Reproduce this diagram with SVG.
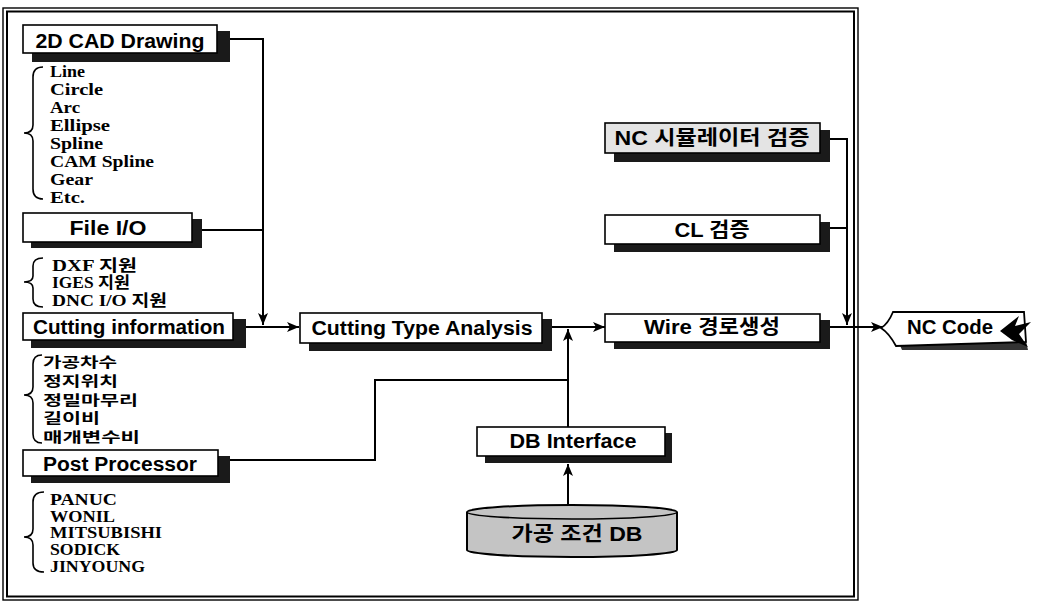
<svg xmlns="http://www.w3.org/2000/svg" width="1039" height="602" viewBox="0 0 1039 602">
<style>
.box{fill:#fff;stroke:#000;stroke-width:1.6}
.shd{fill:#1a1a1a}
.bt{font-family:"Liberation Sans","Noto Sans CJK KR",sans-serif;font-weight:bold;font-size:20px;fill:#000;text-anchor:middle}
.ls{font-family:"Liberation Serif","Noto Sans CJK KR",serif;font-weight:bold;font-size:16px;fill:#000}
.lk{font-family:"Noto Sans CJK KR",sans-serif;font-weight:bold;font-size:14px;fill:#000}
.br{fill:none;stroke:#000;stroke-width:1.6}
.cn{fill:none;stroke:#000;stroke-width:2}
</style>
<defs>
<marker id="ah" markerUnits="userSpaceOnUse" markerWidth="12" markerHeight="10" refX="12" refY="5" orient="auto">
<path d="M0,0 L12,5 L0,10 L3,5 Z" fill="#000"/>
</marker>
</defs>
<g id="frame">
<rect x="3" y="8" width="855" height="592" fill="none" stroke="#000" stroke-width="1.4"/>
<rect x="7" y="11.5" width="847" height="585" fill="none" stroke="#000" stroke-width="2"/>
</g>
<g id="connectors">
<polyline class="cn" points="230,39 263,39 263,325" marker-end="url(#ah)"/>
<line class="cn" x1="202" y1="230" x2="263" y2="230"/>
<line class="cn" x1="246" y1="327" x2="299" y2="327" marker-end="url(#ah)"/>
<line class="cn" x1="552" y1="327" x2="605" y2="327" marker-end="url(#ah)"/>
<polyline class="cn" points="230,460 375,460 375,380 568,380"/>
<line class="cn" x1="568" y1="427" x2="568" y2="329" marker-end="url(#ah)"/>
<line class="cn" x1="568" y1="508" x2="568" y2="464" marker-end="url(#ah)"/>
<polyline class="cn" points="830,139 847,139 847,325" marker-end="url(#ah)"/>
<line class="cn" x1="830" y1="228" x2="847" y2="228"/>
<line class="cn" x1="830" y1="327" x2="883" y2="327" marker-end="url(#ah)"/>
</g>
<g id="n-cad">
<rect class="shd" x="32" y="31" width="198" height="31"/>
<rect class="box" x="23" y="25" width="194" height="28"/>
<text class="bt" x="120" y="48" textLength="169" lengthAdjust="spacingAndGlyphs">2D CAD Drawing</text>
</g>
<g id="list-cad">
<path class="br" d="M43,67 Q33,67 33,77 L33,125 Q33,133 24,133 Q33,133 33,141 L33,189 Q33,199 43,199"/>
<text class="ls" x="50" y="77" textLength="35" lengthAdjust="spacingAndGlyphs">Line</text>
<text class="ls" x="50" y="95" textLength="53" lengthAdjust="spacingAndGlyphs">Circle</text>
<text class="ls" x="50" y="113" textLength="30" lengthAdjust="spacingAndGlyphs">Arc</text>
<text class="ls" x="50" y="131" textLength="60" lengthAdjust="spacingAndGlyphs">Ellipse</text>
<text class="ls" x="50" y="149" textLength="53" lengthAdjust="spacingAndGlyphs">Spline</text>
<text class="ls" x="50" y="167" textLength="104" lengthAdjust="spacingAndGlyphs">CAM Spline</text>
<text class="ls" x="50" y="185" textLength="43" lengthAdjust="spacingAndGlyphs">Gear</text>
<text class="ls" x="50" y="203" textLength="35" lengthAdjust="spacingAndGlyphs">Etc.</text>
</g>
<g id="n-file">
<rect class="shd" x="31" y="219" width="171" height="29"/>
<rect class="box" x="23" y="213" width="169" height="29"/>
<text class="bt" x="108" y="235" textLength="77" lengthAdjust="spacingAndGlyphs">File I/O</text>
</g>
<g id="list-file">
<path class="br" d="M43,258 Q33,258 33,266 L33,276 Q33,282 24,282 Q33,282 33,288 L33,299 Q33,307 43,307"/>
<text class="ls" x="52" y="271" textLength="85" lengthAdjust="spacingAndGlyphs">DXF 지원</text>
<text class="ls" x="52" y="288" textLength="78" lengthAdjust="spacingAndGlyphs" font-weight="normal">IGES 지원</text>
<text class="ls" x="52" y="306" textLength="115" lengthAdjust="spacingAndGlyphs" font-weight="normal">DNC I/O 지원</text>
</g>
<g id="n-cutinfo">
<rect class="shd" x="31" y="319" width="215" height="29"/>
<rect class="box" x="23" y="313" width="210" height="27"/>
<text class="bt" x="129" y="334" textLength="192" lengthAdjust="spacingAndGlyphs">Cutting information</text>
</g>
<g id="list-cutinfo">
<path class="br" d="M42,355 Q33,355 33,364 L33,387 Q33,395 24,395 Q33,395 33,403 L33,434 Q33,443 42,443"/>
<text class="lk" x="43" y="367" textLength="74" lengthAdjust="spacingAndGlyphs">가공차수</text>
<text class="lk" x="43" y="386" textLength="75" lengthAdjust="spacingAndGlyphs">정지위치</text>
<text class="lk" x="43" y="405" textLength="95" lengthAdjust="spacingAndGlyphs">정밀마무리</text>
<text class="lk" x="43" y="423" textLength="57" lengthAdjust="spacingAndGlyphs">길이비</text>
<text class="lk" x="43" y="442" textLength="97" lengthAdjust="spacingAndGlyphs">매개변수비</text>
</g>
<g id="n-post">
<rect class="shd" x="31" y="456" width="199" height="27"/>
<rect class="box" x="23" y="450" width="195" height="26"/>
<text class="bt" x="120" y="471" textLength="154" lengthAdjust="spacingAndGlyphs">Post Processor</text>
</g>
<g id="list-post">
<path class="br" d="M44,492 Q33,492 33,502 L33,529 Q33,537 24,537 Q33,537 33,545 L33,563 Q33,572 44,572"/>
<text class="ls" x="50" y="505" textLength="67" lengthAdjust="spacingAndGlyphs">PANUC</text>
<text class="ls" x="50" y="522" textLength="65" lengthAdjust="spacingAndGlyphs">WONIL</text>
<text class="ls" x="50" y="538" textLength="112" lengthAdjust="spacingAndGlyphs">MITSUBISHI</text>
<text class="ls" x="50" y="555" textLength="70" lengthAdjust="spacingAndGlyphs">SODICK</text>
<text class="ls" x="50" y="572" textLength="95" lengthAdjust="spacingAndGlyphs">JINYOUNG</text>
</g>
<g id="n-cta">
<rect class="shd" x="309" y="319" width="243" height="32"/>
<rect class="box" x="300" y="313" width="242" height="30"/>
<text class="bt" x="422" y="335" textLength="221" lengthAdjust="spacingAndGlyphs">Cutting Type Analysis</text>
</g>
<g id="n-wire">
<rect class="shd" x="614" y="320" width="216" height="29"/>
<rect class="box" x="605" y="314" width="215" height="28"/>
<text class="bt" x="712" y="334" textLength="136" lengthAdjust="spacingAndGlyphs">Wire 경로생성</text>
</g>
<g id="n-ncsim">
<rect class="shd" x="614" y="130" width="216" height="32"/>
<rect class="box" x="605" y="123" width="215" height="30" style="fill:#e4e4e4"/>
<text class="bt" x="712" y="145" textLength="195" lengthAdjust="spacingAndGlyphs">NC 시뮬레이터 검증</text>
</g>
<g id="n-cl">
<rect class="shd" x="614" y="222" width="216" height="30"/>
<rect class="box" x="605" y="215" width="215" height="29"/>
<text class="bt" x="712" y="237" textLength="75" lengthAdjust="spacingAndGlyphs">CL 검증</text>
</g>
<g id="n-dbif">
<rect class="shd" x="485" y="433" width="187" height="30"/>
<rect class="box" x="477" y="427" width="188" height="29"/>
<text class="bt" x="573" y="448" textLength="127" lengthAdjust="spacingAndGlyphs">DB Interface</text>
</g>
<g id="n-db">
<path d="M467,512 L467,550 A105,7 0 0 0 677,550 L677,512 A105,7 0 0 0 467,512 Z" fill="#c4c4c4" stroke="#000" stroke-width="2"/>
<path d="M467,512 A105,7 0 0 0 677,512" fill="none" stroke="#000" stroke-width="1.6"/>
<text class="bt" x="577" y="541" textLength="131" lengthAdjust="spacingAndGlyphs">가공 조건 DB</text>
</g>
<g id="n-nccode">
<path d="M898,341 L1026,341 L1028,350 L902,350 Z" fill="#333"/>
<path d="M893,312 L1024,312 L1026,342 L896,346 Q889,333 881,328 Q888,324 893,312 Z" fill="#fff" stroke="#000" stroke-width="1.8"/>
<path d="M1000,331 L1019,316 L1015,326 L1031,322 L1019,334 L1028,347 L1012,340 Z" fill="#000"/>
<text class="bt" x="950" y="334" textLength="86" lengthAdjust="spacingAndGlyphs">NC Code</text>
</g>
</svg>
